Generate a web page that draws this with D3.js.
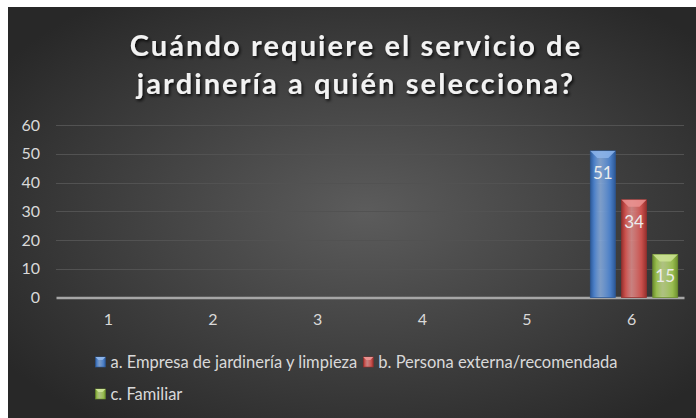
<!DOCTYPE html>
<html>
<head>
<meta charset="utf-8">
<script src="https://cdn.jsdelivr.net/npm/d3@7"></script>
<style>
  html, body { margin: 0; padding: 0; background: #ffffff; }
  svg { display: block; }
  text { font-family: Lato, "Open Sans", sans-serif; }
</style>
</head>
<body>
<svg id="chart" width="696" height="418"></svg>
<script>
// datos
var categories = ["1", "2", "3", "4", "5", "6"];
var seriesNames = ["a. Empresa de jardinería y limpieza", "b. Persona externa/recomendada", "c. Familiar"];
var empresa  = [null, null, null, null, null, 51];
var persona  = [null, null, null, null, null, 34];
var familiar = [null, null, null, null, null, 15];
var yTicks = [0, 10, 20, 30, 40, 50, 60];
var titleLines = ["Cuándo requiere el servicio de", "jardinería a quién selecciona?"];

var colors = [
    {base: "#4a7ec6", light: "#8cb4ea", dark: "#2d5a99"},
    {base: "#c9504c", light: "#eb9290", dark: "#96302d"},
    {base: "#97bc4e", light: "#cce394", dark: "#6d8f2e"}
];

var svg = d3.select("#chart");
var width = +svg.attr("width");
var height = +svg.attr("height");
var frame = {left: 8, top: 7};
var padding = {top: 125, right: 12, bottom: 120.5, left: 56};

var defs = svg.append("defs");

// fondo con degradado radial
var bg = defs.append("radialGradient")
    .attr("id", "bg")
    .attr("cx", "52%").attr("cy", "50%").attr("r", "64%");
bg.append("stop").attr("offset", "0%").attr("stop-color", "#5c5c5c");
bg.append("stop").attr("offset", "100%").attr("stop-color", "#282828");

colors.forEach(function(c, i){
    var g = defs.append("linearGradient")
        .attr("id", "bar" + i)
        .attr("x1", "0%").attr("x2", "100%").attr("y1", "0%").attr("y2", "0%");
    g.append("stop").attr("offset", "0%").attr("stop-color", c.dark);
    g.append("stop").attr("offset", "15%").attr("stop-color", c.base);
    g.append("stop").attr("offset", "40%").attr("stop-color", c.light).attr("stop-opacity", 0.8);
    g.append("stop").attr("offset", "80%").attr("stop-color", c.base);
    g.append("stop").attr("offset", "100%").attr("stop-color", c.dark);
});

var shadow = defs.append("filter").attr("id", "shadow")
    .attr("x", "-10%").attr("y", "-30%").attr("width", "120%").attr("height", "160%");
shadow.append("feDropShadow")
    .attr("dx", 1.5).attr("dy", 2).attr("stdDeviation", 1.5)
    .attr("flood-color", "#000").attr("flood-opacity", 0.8);

svg.append("rect")
    .attr("x", frame.left).attr("y", frame.top)
    .attr("width", width - frame.left).attr("height", height - frame.top)
    .attr("fill", "url(#bg)");

// titulo
var title = svg.append("g").attr("filter", "url(#shadow)");
title.selectAll("text")
    .data(titleLines)
    .enter()
    .append("text")
        .attr("x", 356)
        .attr("y", (d, i) => 56 + i * 38)
        .attr("text-anchor", "middle")
        .attr("fill", "#f2f2f2")
        .style("font-size", "29px")
        .style("font-weight", "bold")
        .style("letter-spacing", "2.1px")
        .text(d => d);

var xScale = d3.scaleBand()
    .domain(categories)
    .range([padding.left, width - padding.right]);

var xSub = d3.scaleBand()
    .domain(d3.range(seriesNames.length))
    .range([xScale.bandwidth() * 0.105, xScale.bandwidth() * 0.94])
    .paddingInner(0.2);

var yScale = d3.scaleLinear()
    .domain([0, 60])
    .range([height - padding.bottom, padding.top]);

// lineas de division
svg.append("g")
    .selectAll("line")
    .data(yTicks.slice(1))
    .enter()
    .append("line")
        .attr("x1", padding.left)
        .attr("x2", width - padding.right)
        .attr("y1", d => Math.round(yScale(d)) + 0.5)
        .attr("y2", d => Math.round(yScale(d)) + 0.5)
        .attr("stroke", "#525252")
        .attr("stroke-width", 1);

var yAxis = d3.axisLeft(yScale).tickValues(yTicks).tickSize(0).tickPadding(0);
svg.append("g")
    .attr("transform", "translate(40,0)")
    .call(yAxis)
    .call(g => g.select(".domain").remove())
    .selectAll("text")
        .attr("fill", "#d9d9d9")
        .style("font-size", "16px");

var xAxis = d3.axisBottom(xScale).tickSize(0).tickPadding(16);
svg.append("g")
    .attr("transform", "translate(0," + yScale(0) + ")")
    .call(xAxis)
    .call(g => g.select(".domain").attr("stroke", "#a6a6a6").attr("stroke-width", 2.5))
    .selectAll("text")
        .attr("fill", "#d9d9d9")
        .style("font-size", "16px");

// barras
var rows = [];
[empresa, persona, familiar].forEach(function(vals, s){
    vals.forEach(function(v, i){
        if (v !== null) rows.push({cat: categories[i], s: s, value: v});
    });
});

var bars = svg.append("g")
    .selectAll("g")
    .data(rows)
    .enter()
    .append("g")
    .attr("transform", d => "translate(" + (xScale(d.cat) + xSub(d.s)) + ",0)");

var bw = xSub.bandwidth();
var bevel = 7;

bars.append("rect")
    .attr("x", 0)
    .attr("y", d => yScale(d.value))
    .attr("width", bw)
    .attr("height", d => yScale(0) - yScale(d.value))
    .attr("fill", d => "url(#bar" + d.s + ")")
    .attr("stroke", d => colors[d.s].dark)
    .attr("stroke-width", 0.8);

// bisel superior
bars.append("path")
    .attr("d", function(d){
        var t = yScale(d.value);
        return "M0," + t + "L" + bw + "," + t + "L" + (bw - bevel) + "," + (t + bevel) +
               "L" + bevel + "," + (t + bevel) + "Z";
    })
    .attr("fill", d => colors[d.s].light)
    .attr("opacity", 0.85);

bars.append("text")
    .attr("x", bw / 2)
    .attr("y", d => yScale(d.value) + 28)
    .attr("text-anchor", "middle")
    .attr("fill", "#ececec")
    .style("font-size", "17px")
    .text(d => d.value);

// leyenda
var legend = svg.append("g");
var items = legend.selectAll("g")
    .data(seriesNames)
    .enter()
    .append("g");

items.append("text")
    .attr("x", 15)
    .attr("y", 5.5)
    .attr("fill", "#d9d9d9")
    .style("font-size", "16.5px")
    .text(d => d);

var widths = [];
items.each(function(){ widths.push(15 + d3.select(this).select("text").node().getComputedTextLength()); });
var gap = 6;
var row1 = widths[0] + gap + widths[1];
var startX = 356.5 - row1 / 2;
var pos = [[startX, 362], [startX + widths[0] + gap, 362], [startX, 394]];
items.attr("transform", (d, i) => "translate(" + pos[i][0] + "," + pos[i][1] + ")");

items.append("rect")
    .attr("x", 0).attr("y", -5)
    .attr("width", 10).attr("height", 10)
    .attr("fill", (d, i) => "url(#bar" + i + ")")
    .attr("stroke", (d, i) => colors[i].dark)
    .attr("stroke-width", 0.6);
items.append("path")
    .attr("d", "M0,-5L10,-5L7,-2L3,-2Z")
    .attr("fill", (d, i) => colors[i].light);
</script>
</body>
</html>
